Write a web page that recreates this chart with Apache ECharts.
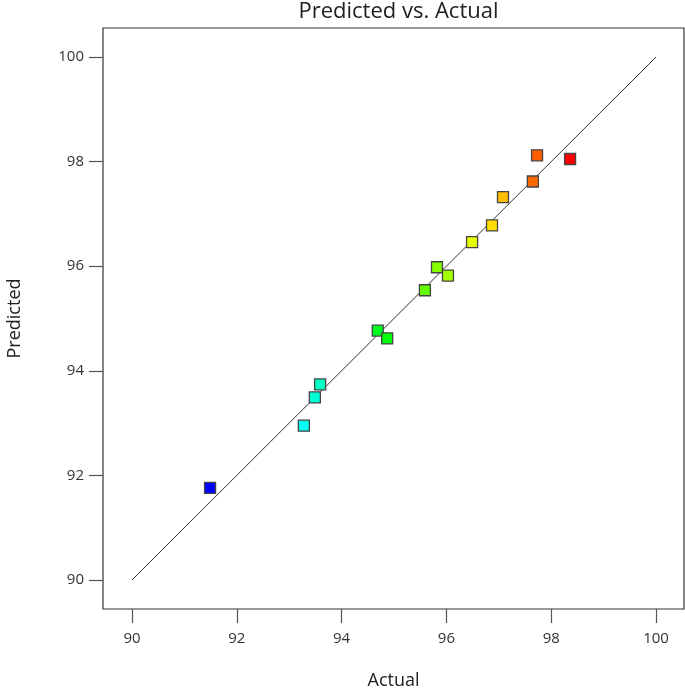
<!DOCTYPE html>
<html>
<head>
<meta charset="utf-8">
<script src="https://cdn.jsdelivr.net/npm/echarts@6/dist/echarts.min.js"></script>
<style>html,body{margin:0;padding:0;background:#fff}#c{width:685px;height:688px}</style>
</head>
<body>
<div id="c"></div>
<script>
const actual    = [91.49, 93.28, 93.49, 93.59, 94.69, 94.87, 95.59, 95.82, 96.03, 96.49, 96.87, 97.08, 97.65, 97.73, 98.36];
const predicted = [91.76, 92.95, 93.49, 93.74, 94.77, 94.62, 95.54, 95.98, 95.82, 96.46, 96.78, 97.32, 97.62, 98.12, 98.05];
const tickValues = [90, 92, 94, 96, 98, 100];
const refLine = [90, 100];

const FONT = "'Open Sans', 'Noto Sans', sans-serif";
const points = actual.map((a, i) => [a, predicted[i]]);

const chart = echarts.init(document.getElementById('c'), null, {renderer: 'canvas'});
chart.setOption({
  animation: false,
  backgroundColor: '#fff',
  title: {
    text: 'Predicted vs. Actual',
    left: 393.5, textAlign: 'center', top: -4,
    textStyle: {fontFamily: FONT, fontSize: 22, fontWeight: 'normal', color: '#222'}
  },
  grid: {left: 103, right: 1, top: 28, bottom: 79, containLabel: false, outerBoundsMode: 'none',
         show: true, borderColor: '#333', borderWidth: 1.2, backgroundColor: '#fff'},
  visualMap: {
    type: 'continuous', show: false, seriesIndex: 1, dimension: 0,
    min: Math.min(...actual), max: Math.max(...actual),
    inRange: {color: ['#0000ff', '#00ffff', '#00ff00', '#ffff00', '#ff0000']}
  },
  xAxis: {
    type: 'value', min: 89.447, max: 100.534,
    name: 'Actual', nameLocation: 'middle', nameGap: 63,
    nameTextStyle: {fontFamily: FONT, fontSize: 18, color: '#222'},
    axisLine: {show: false},
    splitLine: {show: false},
    axisTick: {show: true, inside: false, length: 14, customValues: tickValues, lineStyle: {color: '#555', width: 1.2}},
    axisLabel: {customValues: tickValues, margin: 22, fontFamily: FONT, fontSize: 15, color: '#333'}
  },
  yAxis: {
    type: 'value', min: 89.445, max: 100.555,
    name: 'Predicted', nameLocation: 'middle', nameGap: 79, nameRotate: 90,
    nameTextStyle: {fontFamily: FONT, fontSize: 18, color: '#222'},
    axisLine: {show: false},
    splitLine: {show: false},
    axisTick: {show: true, inside: false, length: 14, customValues: tickValues, lineStyle: {color: '#555', width: 1.2}},
    axisLabel: {customValues: tickValues, margin: 19, fontFamily: FONT, fontSize: 15, color: '#333'}
  },
  series: [
    {
      type: 'line', data: [[refLine[0], refLine[0]], [refLine[1], refLine[1]]],
      symbol: 'none', silent: true,
      lineStyle: {color: '#333', width: 1}, z: 2
    },
    {
      type: 'scatter', data: points, symbol: 'rect', symbolSize: 11,
      itemStyle: {borderColor: '#444', borderWidth: 1.3, opacity: 1}, z: 3
    }
  ]
});
</script>
</body>
</html>
